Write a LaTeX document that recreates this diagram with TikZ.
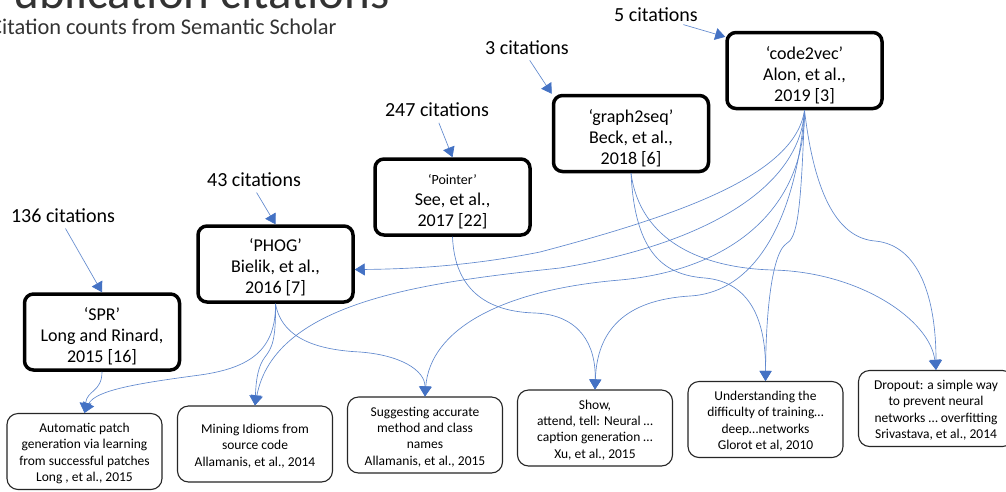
\documentclass[tikz,border=0pt]{standalone}
\usepackage{fontspec}
\setmainfont{Carlito}
\usetikzlibrary{arrows.meta}
\definecolor{linkblue}{RGB}{68,114,196}
\definecolor{linkline}{RGB}{96,136,206}
% strut that pads the first line of a box
\newcommand{\toppad}[1]{\rule{0pt}{#1}}
\begin{document}
\begin{tikzpicture}[x=1pt,y=-1pt,
  paper/.style={draw=black, line width=3.5pt, rounded corners=9pt, fill=white,
    align=center, minimum width=155pt, minimum height=76pt, inner sep=0pt,
    font=\fontsize{18}{21}\selectfont},
  citer/.style={draw=black!85, line width=1.1pt, rounded corners=11pt, fill=white,
    align=center, minimum width=155pt, minimum height=76pt, inner sep=0pt,
    font=\fontsize{13.5}{16.4}\selectfont},
  count/.style={font=\fontsize{20}{24}\selectfont, inner sep=1pt},
  heading/.style={anchor=base west, inner sep=0pt, text=black!80},
  link/.style={draw=linkline, line width=0.65pt,
    -{Triangle[length=10pt,width=12pt,color=linkblue]}},
]
\useasboundingbox (0,0) rectangle (1006,491);
\fill[white] (0,0) rectangle (1006,491);
\clip (0,0) rectangle (1006,491);

% heading
\node[heading, font=\fontsize{49}{50}\selectfont] (title) at (-12,8) {Publication citations};
\node[heading, font=\fontsize{22.4}{25}\selectfont] (subtitle) at (-10,34) {Citation counts from Semantic Scholar};

% cited papers
\node[paper] (c2v)  at (804.5,70.5) {\toppad{22pt}‘code2vec’\\Alon, et al.,\\2019 [3]};
\node[paper] (g2s)  at (631,133.5)  {\toppad{22pt}‘graph2seq’\\Beck, et al.,\\2018 [6]};
\node[paper] (ptr)  at (452.5,197)  {\toppad{19pt}{\fontsize{14}{17}\selectfont ‘Pointer’}\\See, et al.,\\2017 [22]};
\node[paper] (phog) at (275.5,264)  {\toppad{20pt}‘PHOG’\\Bielik, et al.,\\2016 [7]};
\node[paper] (spr)  at (102,332)    {\toppad{21pt}‘SPR’\\Long and Rinard,\\2015 [16]};

% citation counts
\node[count] (l5)   at (656,15)  {5 citations};
\node[count] (l3)   at (527,48)  {3 citations};
\node[count] (l247) at (437,110) {247 citations};
\node[count] (l43)  at (254,180) {43 citations};
\node[count] (l136) at (63,216)  {136 citations};

% referenced works
\node[citer] (ap) at (84.5,451.5) {\toppad{13pt}Automatic patch\\generation via learning\\from successful patches\\Long , et al., 2015};
\node[citer] (mi) at (255,444)    {\toppad{13pt}Mining Idioms from\\source code\\Allamanis, et al., 2014};
\node[citer] (sa) at (425,435)    {\toppad{13pt}Suggesting accurate\\method and class\\names\\Allamanis, et al., 2015};
\node[citer] (sh) at (595,428)    {\toppad{13pt}Show,\\attend, tell: Neural …\\caption generation …\\Xu, et al., 2015};
\node[citer] (un) at (765.5,419.5){\toppad{13pt}Understanding the\\difficulty of training…\\deep…networks\\Glorot et al, 2010};
\node[citer] (dr) at (936,408.5)  {\toppad{13pt}Dropout: a simple way\\to prevent neural\\networks … overfitting\\Srivastava, et al., 2014};

% count arrows
\draw[link, shorten <=5pt] (l5.-20) -- (c2v.157);
\draw[link, shorten <=5pt] (l3.south) -- (g2s.north west);
\draw[link, shorten <=5pt] (l247.south) -- (ptr.north);
\draw[link, shorten <=5pt] (l43.south) -- (phog.north);
\draw[link, shorten <=5pt] (l136.south) -- (spr.north);

% code2vec references
\draw[link] (c2v.south) .. controls (795,175) and (680,215) .. (540,252)
  .. controls (470,266) and (410,269) .. (phog.-4);
\draw[link] (c2v.south) .. controls (800,190) and (700,245) .. (560,268)
  .. controls (430,282) and (275,300) .. (mi.north);
\draw[link] (c2v.south) .. controls (805,210) and (730,270) .. (620,280)
  .. controls (500,290) and (430,330) .. (sa.north);
\draw[link] (c2v.south) .. controls (797,210) and (760,292) .. (690,296)
  .. controls (625,300) and (597,330) .. (sh.north);
\draw[link] (c2v.south) .. controls (801,215) and (797,238) .. (786,244)
  .. controls (774,252) and (766,300) .. (un.north);
\draw[link] (c2v.south) .. controls (815,200) and (840,238) .. (875,241)
  .. controls (920,245) and (936,300) .. (dr.north);

% graph2seq references
\draw[link] (g2s.south) .. controls (635,255) and (665,275) .. (705,278)
  .. controls (750,282) and (766,320) .. (un.north);
\draw[link] (g2s.south) .. controls (640,240) and (700,268) .. (773,270)
  .. controls (860,272) and (930,320) .. (dr.north);

% Pointer reference
\draw[link] (ptr.south) .. controls (455,300) and (500,312) .. (535,313)
  .. controls (580,315) and (596,345) .. (sh.north);

% PHOG references
\draw[link] (phog.south) .. controls (276,340) and (272,348) .. (265,357)
  .. controls (258,366) and (256,380) .. (mi.north);
\draw[link] (phog.south) .. controls (276,350) and (250,368) .. (200,375)
  .. controls (140,383) and (95,390) .. (ap.north);
\draw[link] (phog.south) .. controls (282,340) and (320,350) .. (360,352)
  .. controls (400,355) and (425,370) .. (sa.north);

% SPR reference
\draw[link] (spr.south) .. controls (102,392) and (87,390) .. (ap.north);
\end{tikzpicture}
\end{document}
